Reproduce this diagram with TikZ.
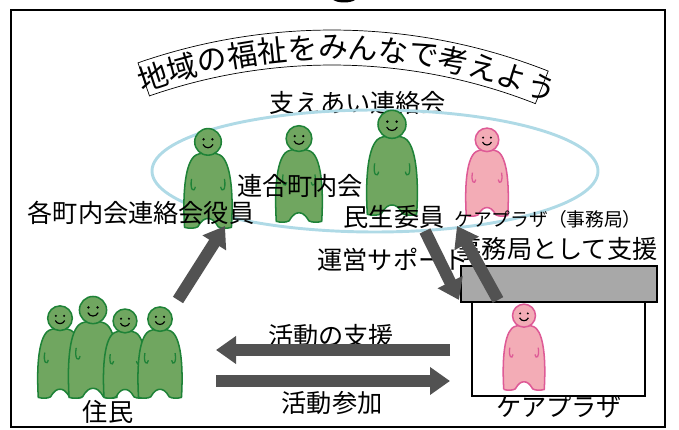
\documentclass[tikz,border=0pt]{standalone}
\usepackage{fontspec}
\setmainfont{Noto Sans CJK JP}
\usetikzlibrary{arrows.meta}
\definecolor{figgreen}{RGB}{112,166,96}
\definecolor{figline}{RGB}{30,130,55}
\definecolor{figpink}{RGB}{243,172,182}
\definecolor{pinkline}{RGB}{222,90,150}
\definecolor{ringblue}{RGB}{175,218,230}
\definecolor{arrowgray}{RGB}{82,82,82}
\definecolor{boxgray}{RGB}{168,168,168}

\begin{document}
\begin{tikzpicture}[
  lab/.style={font=\fontsize{21.5}{24}\selectfont, inner sep=0pt},
  smalllab/.style={font=\fontsize{16}{18}\selectfont, inner sep=0pt},
  bannertxt/.style={font=\fontsize{25.5}{28}\selectfont, inner sep=0pt},
  band/.style={draw, fill=white, line width=0.6pt},
  bigarrow/.style={draw=arrowgray, line width=0.36cm, -{Triangle[length=0.6cm,width=0.8cm]}},
  pics/person/.style 2 args={code={
    \filldraw[fill=#1, draw=#2, line width=1.3pt]
      (-0.74,0.02) .. controls (-0.8,1.0) and (-0.74,1.95) .. (-0.45,2.25)
      .. controls (-0.3,2.42) and (0.3,2.42) .. (0.45,2.25)
      .. controls (0.74,1.95) and (0.8,1.0) .. (0.74,0.02)
      .. controls (0.6,-0.02) and (0.42,-0.02) .. (0.32,0.04)
      .. controls (0.2,0.25) and (0.1,0.3) .. (0,0.3)
      .. controls (-0.1,0.3) and (-0.2,0.25) .. (-0.32,0.04)
      .. controls (-0.42,-0.02) and (-0.6,-0.02) .. cycle;
    \filldraw[fill=#1, draw=#2, line width=1.3pt] (0,2.72) circle[radius=0.42];
    \fill (-0.14,2.8) circle[radius=0.04] (0.14,2.8) circle[radius=0.04];
    \draw[line width=1pt] (-0.16,2.64) .. controls (-0.1,2.5) and (0.1,2.5) .. (0.16,2.64);
    \draw[#2, line width=1.1pt] (-0.52,1.55) .. controls (-0.58,1.2) and (-0.44,1.1) .. (-0.4,1.3);
    \draw[#2, line width=1.1pt] (0.52,1.55) .. controls (0.58,1.2) and (0.44,1.1) .. (0.4,1.3);
  }}
]
\useasboundingbox (0,0) rectangle (20.37,12.9);
\draw[line width=1.4pt] (0.33,0.09) rectangle (19.95,12.6);
\fill (10.0,12.9) .. controls (10.15,12.8) and (10.5,12.8) .. (10.65,12.9) -- cycle;

\coordinate (arcc) at (9.96,-5.7);
\draw[band] ([shift={(109.2:17.7)}]arcc) arc[start angle=109.2, end angle=68.5, radius=17.7]
  -- ([shift={(68.5:16.65)}]arcc) arc[start angle=68.5, end angle=109.2, radius=16.65] -- cycle;
\foreach \ch [count=\i, evaluate=\i as \a using 108.2-(\i-1)*3.05] in {地,域,の,福,祉,を,み,ん,な,で,考,え,よ,う}
  \node[bannertxt, rotate=\a-90] at ([shift={(\a:17.17)}]arcc) {\ch};

\node[lab] (title) at (10.74,9.81) {支えあい連絡会};
\draw[ringblue, line width=2.5pt] (11.25,7.77) ellipse[x radius=6.69, y radius=1.83];

\pic[scale=0.95] at (6.24,6.06) {person={figgreen}{figline}};
\pic[scale=0.92] at (8.97,6.24) {person={figgreen}{figline}};
\pic[scale=1.0] at (11.76,6.45) {person={figgreen}{figline}};
\pic[scale=0.84] at (14.61,6.42) {person={figpink}{pinkline}};

\node[lab] (rengo) at (9.0,7.32) {連合町内会};
\node[lab] (yakuin) at (4.23,6.51) {各町内会連絡会役員};
\node[lab] (minsei) at (11.82,6.39) {民生委員};
\node[smalllab] (jimukyoku) at (16.44,6.33) {ケアプラザ（事務局）};
\node[lab] (shien) at (16.71,5.43) {事務局として支援};
\node[lab] (unei) at (11.79,5.1) {運営サポート};

\draw[fill=boxgray, line width=1.2pt] (13.83,3.84) rectangle (19.71,4.92);
\draw[fill=white, line width=1.2pt] (14.16,1.02) rectangle (19.35,3.84);
\pic[scale=0.82] at (15.72,1.2) {person={figpink}{pinkline}};
\node[lab] (plaza) at (16.77,0.69) {ケアプラザ};

\pic[scale=0.88] at (1.8,0.96) {person={figgreen}{figline}};
\pic[scale=0.97] at (2.79,0.96) {person={figgreen}{figline}};
\pic[scale=0.85] at (3.75,0.96) {person={figgreen}{figline}};
\pic[scale=0.87] at (4.8,0.96) {person={figgreen}{figline}};
\node[lab] (jumin) at (3.24,0.54) {住民};

\node[lab] (katsudo) at (9.93,2.82) {活動の支援};
\node[lab] (sanka) at (9.96,0.81) {活動参加};

\coordinate (resout) at (5.34,3.9);
\coordinate (yakuinin) at (6.75,6.12);
\coordinate (minseiout) at (12.75,5.97);
\coordinate (boxin) at (13.77,3.9);
\coordinate (boxout) at (14.94,3.9);
\coordinate (jimuin) at (13.71,6.12);
\coordinate (plazaw) at (13.5,2.4);
\coordinate (resw) at (6.48,2.4);
\coordinate (resj) at (6.48,1.47);
\coordinate (plazaj) at (13.5,1.47);

\draw[bigarrow] (resout) -- (yakuinin);
\draw[bigarrow] (minseiout) -- (boxin);
\draw[bigarrow] (boxout) -- (jimuin);
\draw[bigarrow] (plazaw) -- (resw);
\draw[bigarrow] (resj) -- (plazaj);
\end{tikzpicture}
\end{document}
